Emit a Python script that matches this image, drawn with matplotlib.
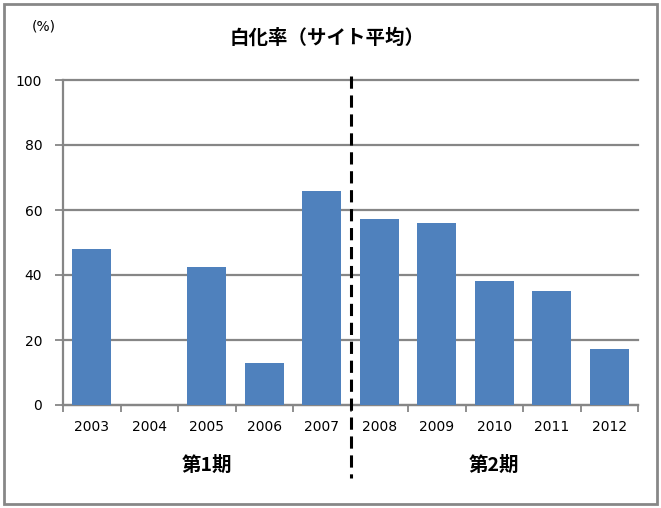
import matplotlib.pyplot as plt
import numpy as np
from matplotlib.patches import Rectangle

plt.rcParams['font.family'] = ['Noto Sans CJK JP', 'DejaVu Sans']

years = ['2003', '2004', '2005', '2006', '2007', '2008', '2009', '2010', '2011', '2012']
bleaching = [48.0, 0, 42.5, 12.9, 65.8, 57.2, 56.0, 38.2, 35.1, 17.2]
periods = ['第1期', '第2期']
period_spans = [(0, 4), (5, 9)]

BAR = '#4F81BD'
GRID = '#868686'

fig = plt.figure(figsize=(6.61, 5.08), dpi=100)
fig.patches.append(Rectangle((4 / 661, 4 / 508), 653 / 661, 500 / 508, transform=fig.transFigure,
                             fill=False, edgecolor='#878787', linewidth=2))
ax = fig.add_axes([63 / 661, 1 - 405 / 508, 575 / 661, 325 / 508])

x = np.arange(len(years))
ax.bar(x, bleaching, width=0.68, color=BAR, zorder=3)

ax.set_xlim(-0.5, len(years) - 0.5)
ax.set_ylim(0, 100)
ax.set_yticks(np.arange(0, 101, 20))
ax.yaxis.grid(True, color=GRID, linewidth=1.6, zorder=0)
for gl in ax.get_ygridlines():
    gl.set_clip_on(False)
ax.set_axisbelow(True)

ax.set_xticks(x)
ax.set_xticklabels(years, fontsize=10, family='DejaVu Sans')
ax.set_xticks(np.arange(-0.5, len(years)), minor=True)
ax.tick_params(axis='x', which='major', length=0, pad=11)
ax.tick_params(axis='x', which='minor', length=5, color=GRID, width=1.3, direction='out')
ax.tick_params(axis='y', length=6, color=GRID, width=1.3, labelsize=10, pad=9)
for lab in ax.get_yticklabels():
    lab.set_family('DejaVu Sans')

for s in ['top', 'right']:
    ax.spines[s].set_visible(False)
for s in ['left', 'bottom']:
    ax.spines[s].set_color(GRID)
    ax.spines[s].set_linewidth(1.6)

# period divider
ax.plot([4.5, 4.5], [101.2, -22.5], color='black', linestyle=(0, (4, 2.2)),
        linewidth=2.2, clip_on=False, zorder=5)

for name, (a, b) in zip(periods, period_spans):
    ax.text((a + b) / 2, -18.5, name, ha='center', va='center', fontsize=14,
            fontweight='bold', transform=ax.transData)

fig.text(327 / 661, 1 - 38 / 508, '白化率（サイト平均）', ha='center', va='center',
         fontsize=14, fontweight='bold')
fig.text(44 / 661, 1 - 27 / 508, '(%)', ha='center', va='center', fontsize=10,
         family='DejaVu Sans')

fig.savefig('out.png', dpi=100)
